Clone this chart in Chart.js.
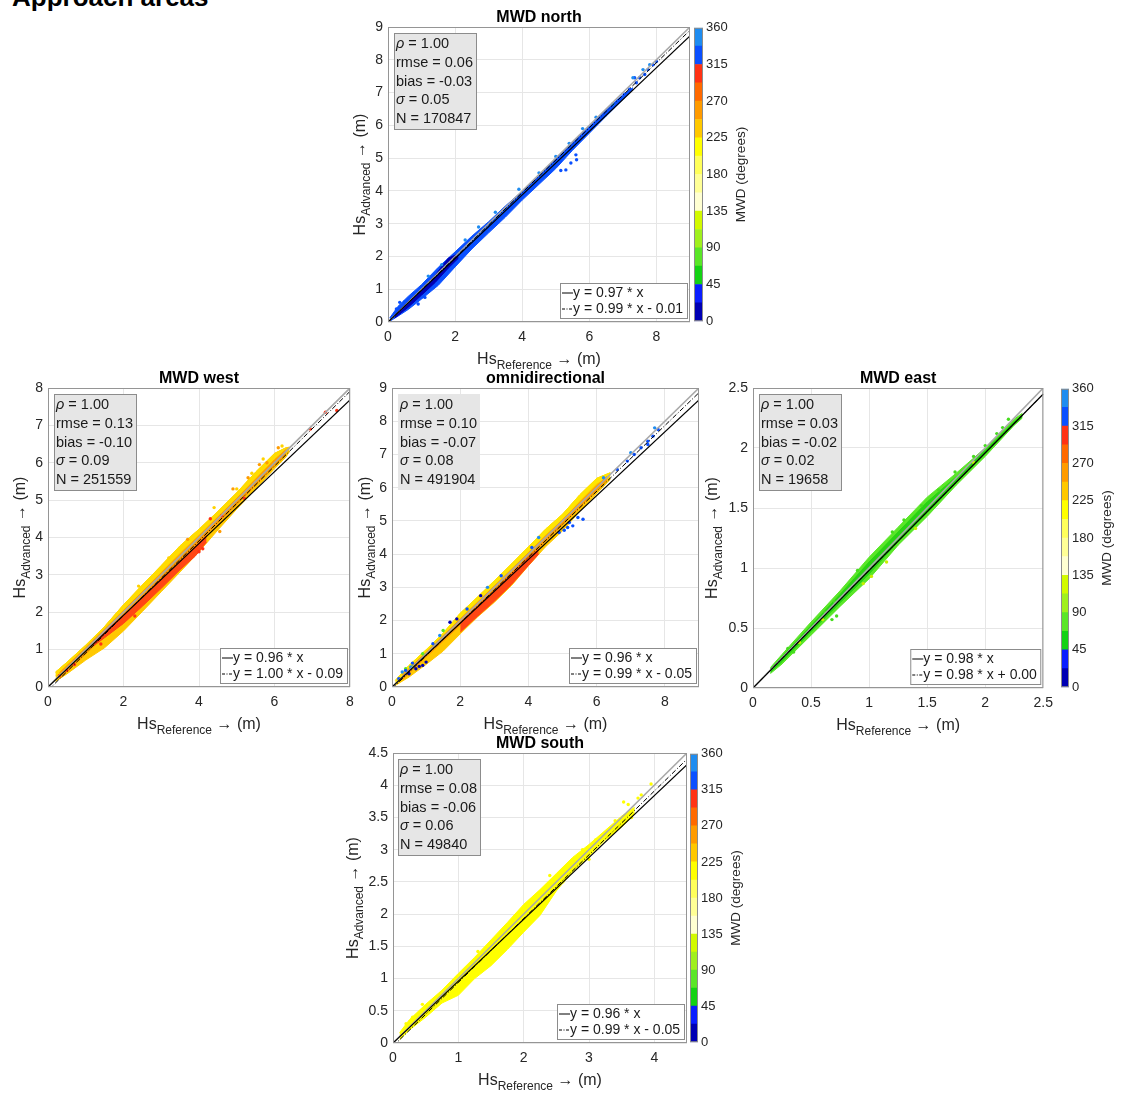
<!DOCTYPE html>
<html>
<head>
<meta charset="utf-8">
<script src="https://cdn.jsdelivr.net/npm/chart.js@4.4.1/dist/chart.umd.min.js"></script>
<style>
  body { margin: 0; background: #fff; width: 1128px; height: 1093px; overflow: hidden; position: relative; }
  canvas { position: absolute; }
  #figTitle { position: absolute; left: 12px; top: -18px; font: bold 26px "Liberation Sans", Arial, sans-serif; white-space: nowrap; color: #000; }
</style>
</head>
<body>
<div id="figTitle">Approach areas</div>
<script>
  'use strict'

  const FONT = '"Liberation Sans", Arial, Helvetica, sans-serif'

  // MWD colour bar: 16 classes of 22.5 degrees, bottom to top
  const mwdLevels = [22.5, 22.5, 22.5, 22.5, 22.5, 22.5, 22.5, 22.5, 22.5, 22.5, 22.5, 22.5, 22.5, 22.5, 22.5, 22.5]
  const mwdColors = ['#0000b4', '#0a1eff', '#14d214', '#5ae628', '#a0f01e', '#d2fa00', '#ffffd2', '#ffff96',
    '#ffff5a', '#ffff00', '#ffc800', '#ff9b00', '#ff6900', '#ff3214', '#0a50ff', '#1e8cf0']
  const mwdTicks = [0, 45, 90, 135, 180, 225, 270, 315, 360]

  // ---- MWD north
  const northXTicks = [0, 2, 4, 6, 8]
  const northYTicks = [0, 1, 2, 3, 4, 5, 6, 7, 8, 9]
  const northBandX = [0.05, 0.3, 0.6, 1.0, 1.5, 2.0, 2.5, 3.0, 3.5, 4.0, 4.5, 5.0, 5.5, 6.0, 6.5, 7.0, 7.3]
  const northBandHi = [0.12, 0.48, 0.78, 1.14, 1.67, 2.14, 2.62, 3.06, 3.54, 3.99, 4.46, 5.0, 5.49, 5.97, 6.47, 6.93, 7.15]
  const northBandLo = [0.02, 0.18, 0.38, 0.7, 1.12, 1.68, 2.23, 2.72, 3.2, 3.72, 4.2, 4.68, 5.24, 5.76, 6.28, 6.79, 7.1]
  const northCoreX = [0.2, 0.6, 1.0, 1.4, 1.8, 2.1]
  const northCoreHi = [0.22, 0.62, 1.0, 1.42, 1.95, 2.08]
  const northCoreLo = [0.12, 0.45, 0.82, 1.2, 1.65, 1.95]
  const northBluePts = [[5.15, 4.62], [5.3, 4.64], [5.45, 4.85], [5.6, 5.1], [5.62, 4.95], [6.85, 6.75], [7.05, 6.95],
    [7.2, 7.1], [7.4, 7.3], [7.5, 7.45], [7.65, 7.55], [7.75, 7.7], [7.9, 7.85], [8.0, 7.95], [7.35, 7.45],
    [0.35, 0.6], [0.5, 0.62], [0.25, 0.4], [0.9, 0.55], [1.1, 0.75]]
  const northLightPts = [[1.2, 1.4], [1.6, 1.75], [2.3, 2.5], [2.7, 2.9], [3.2, 3.35], [3.9, 4.05], [4.5, 4.55],
    [5.0, 5.05], [5.4, 5.45], [5.8, 5.9], [6.2, 6.25], [6.7, 6.65], [7.3, 7.45], [7.6, 7.7], [7.8, 7.85]]
  const northStats = ['1.00', '0.06', '-0.03', '0.05', '170847']
  const northFit = [0.97, 0.99, -0.01]

  // ---- MWD west
  const westXTicks = [0, 2, 4, 6, 8]
  const westYTicks = [0, 1, 2, 3, 4, 5, 6, 7, 8]
  const westBandX = [0.2, 0.5, 1.0, 1.5, 2.0, 2.5, 3.0, 3.5, 4.0, 4.5, 5.0, 5.5, 6.0, 6.3, 6.4]
  const westBandHi = [0.4, 0.66, 1.12, 1.62, 2.2, 2.73, 3.25, 3.78, 4.22, 4.7, 5.2, 5.75, 6.25, 6.4, 6.42]
  const westBandLo = [0.15, 0.35, 0.72, 1.05, 1.5, 2.02, 2.55, 3.08, 3.62, 4.2, 4.76, 5.3, 5.84, 6.15, 6.3]
  const westRimX = [0.2, 0.5, 1.0, 1.5, 2.0, 2.5, 3.0, 3.5, 4.0, 4.5, 5.0, 5.5, 6.0, 6.3]
  const westRimHi = [0.4, 0.66, 1.12, 1.62, 2.2, 2.73, 3.25, 3.78, 4.22, 4.7, 5.2, 5.75, 6.25, 6.4]
  const westRimLo = [0.3, 0.55, 0.98, 1.48, 2.05, 2.58, 3.1, 3.62, 4.08, 4.55, 5.02, 5.55, 6.05, 6.3]
  const westOrangeX = [0.3, 1.0, 2.0, 3.0, 4.0, 5.0, 6.0, 6.3]
  const westOrangeHi = [0.38, 1.05, 2.05, 3.05, 4.05, 5.05, 6.08, 6.35]
  const westOrangeLo = [0.22, 0.88, 1.85, 2.85, 3.88, 4.88, 5.92, 6.22]
  const westRedX = [1.2, 1.5, 2.0, 2.5, 3.0, 3.5, 3.9, 4.2]
  const westRedHi = [1.22, 1.48, 1.92, 2.4, 2.88, 3.36, 3.76, 4.06]
  const westRedLo = [1.1, 1.32, 1.7, 2.16, 2.64, 3.14, 3.5, 3.88]
  const westRedPts = [[0.3, 0.3], [0.5, 0.45], [0.7, 0.6], [4.0, 3.62], [4.1, 3.7], [4.3, 4.5], [4.6, 4.58],
    [5.2, 5.05], [6.95, 6.9], [7.35, 7.35], [7.65, 7.4], [1.4, 1.15], [2.3, 1.9]]
  const westOrangePts = [[4.55, 4.16], [5.8, 6.0], [5.6, 5.95], [5.3, 5.6], [6.1, 6.4], [3.7, 3.95], [4.9, 5.3]]
  const westYellowPts = [[5.0, 5.3], [5.4, 5.72], [5.7, 6.1], [6.2, 6.45], [4.4, 4.8], [3.2, 3.45], [2.4, 2.7]]
  const westStats = ['1.00', '0.13', '-0.10', '0.09', '251559']
  const westFit = [0.96, 1.00, -0.09]

  // ---- omnidirectional
  const omniXTicks = [0, 2, 4, 6, 8]
  const omniYTicks = [0, 1, 2, 3, 4, 5, 6, 7, 8, 9]
  const omniBandX = [0.1, 0.5, 1.0, 1.5, 2.0, 2.5, 3.0, 3.5, 4.0, 4.5, 5.0, 5.5, 6.0, 6.4]
  const omniBandHi = [0.2, 0.65, 1.12, 1.62, 2.22, 2.7, 3.2, 3.7, 4.22, 4.75, 5.2, 5.78, 6.28, 6.45]
  const omniBandLo = [0.05, 0.3, 0.68, 1.08, 1.6, 2.1, 2.55, 3.05, 3.65, 4.22, 4.7, 5.28, 5.82, 6.25]
  const omniRimLo = [0.12, 0.52, 0.98, 1.48, 2.06, 2.56, 3.06, 3.55, 4.08, 4.6, 5.05, 5.62, 6.14, 6.35]
  const omniOrangeX = [0.3, 1.0, 2.0, 3.0, 4.0, 5.0, 6.0, 6.3]
  const omniOrangeHi = [0.36, 1.04, 2.05, 3.04, 4.04, 5.04, 6.06, 6.34]
  const omniOrangeLo = [0.22, 0.9, 1.86, 2.86, 3.88, 4.88, 5.92, 6.22]
  const omniRedX = [2.0, 2.5, 3.0, 3.5, 4.0, 4.3]
  const omniRedHi = [1.95, 2.42, 2.9, 3.4, 3.9, 4.15]
  const omniRedLo = [1.65, 2.12, 2.58, 3.08, 3.66, 4.0]
  const omniDarkPts = [[0.5, 0.4], [0.7, 0.55], [0.9, 0.65], [1.0, 0.75], [0.8, 0.62], [1.7, 1.95], [1.9, 2.05], [2.6, 2.75]]
  const omniBluePts = [[0.2, 0.25], [0.4, 0.5], [0.6, 0.72], [1.2, 1.3], [2.2, 2.35], [3.2, 3.35], [4.1, 4.2],
    [4.9, 4.65], [5.05, 4.72], [5.15, 4.8], [5.3, 4.85], [5.45, 5.1], [5.6, 5.05], [5.2, 4.95], [6.6, 6.55],
    [6.9, 6.8], [7.1, 7.0], [7.3, 7.2], [7.5, 7.4], [7.65, 7.55], [7.8, 7.75], [7.5, 7.3]]
  const omniLightPts = [[0.3, 0.45], [0.55, 0.6], [1.4, 1.55], [2.8, 3.0], [4.3, 4.5], [6.2, 6.3], [7.0, 7.05], [7.7, 7.8]]
  const omniGreenPts = [[0.4, 0.55], [0.6, 0.6], [0.9, 1.0], [1.5, 1.7]]
  const omniStats = ['1.00', '0.10', '-0.07', '0.08', '491904']
  const omniFit = [0.96, 0.99, -0.05]

  // ---- MWD east
  const eastXTicks = [0, 0.5, 1, 1.5, 2, 2.5]
  const eastYTicks = [0, 0.5, 1, 1.5, 2, 2.5]
  const eastBandX = [0.15, 0.25, 0.5, 0.75, 1.0, 1.25, 1.5, 1.75, 2.0, 2.25, 2.32]
  const eastBandHi = [0.17, 0.28, 0.55, 0.81, 1.09, 1.34, 1.59, 1.79, 2.0, 2.24, 2.29]
  const eastBandLo = [0.12, 0.2, 0.44, 0.68, 0.91, 1.19, 1.43, 1.69, 1.93, 2.19, 2.25]
  const eastCoreHi = [0.16, 0.26, 0.52, 0.78, 1.05, 1.3, 1.55, 1.76, 1.98, 2.22, 2.27]
  const eastCoreLo = [0.13, 0.22, 0.47, 0.71, 0.95, 1.22, 1.46, 1.71, 1.95, 2.2, 2.26]
  const eastGreenPts = [[0.3, 0.33], [0.35, 0.3], [0.62, 0.63], [0.68, 0.57], [0.7, 0.72], [0.72, 0.6], [0.9, 0.98],
    [1.2, 1.3], [1.3, 1.4], [1.45, 1.52], [1.6, 1.65], [1.74, 1.8], [1.9, 1.93], [2.0, 2.02], [2.1, 2.12],
    [2.15, 2.17], [2.2, 2.24]]
  const eastYellowPts = [[0.4, 0.38], [0.95, 0.87], [1.02, 0.93], [1.15, 1.05], [1.4, 1.33], [0.6, 0.57], [1.9, 1.88]]
  const eastStats = ['1.00', '0.03', '-0.02', '0.02', '19658']
  const eastFit = [0.98, 0.98, 0.00]

  // ---- MWD south
  const southXTicks = [0, 1, 2, 3, 4]
  const southYTicks = [0, 0.5, 1, 1.5, 2, 2.5, 3, 3.5, 4, 4.5]
  const southBandX = [0.1, 0.25, 0.5, 0.75, 1.0, 1.25, 1.5, 1.75, 2.0, 2.25, 2.5, 2.75, 3.0, 3.25, 3.5, 3.7]
  const southBandHi = [0.16, 0.36, 0.6, 0.82, 1.08, 1.33, 1.6, 1.87, 2.15, 2.38, 2.63, 2.88, 3.08, 3.3, 3.52, 3.66]
  const southBandLo = [0.05, 0.2, 0.4, 0.62, 0.74, 1.0, 1.2, 1.45, 1.72, 1.98, 2.36, 2.66, 2.9, 3.15, 3.35, 3.55]
  const southPts = [[0.2, 0.3], [0.3, 0.4], [0.45, 0.6], [1.3, 1.42], [2.4, 2.6], [2.6, 2.5], [2.9, 3.0], [3.0, 2.85],
    [3.1, 3.15], [3.3, 3.25], [3.4, 3.45], [3.53, 3.74], [3.6, 3.7], [3.75, 3.8], [3.8, 3.85], [3.95, 4.02],
    [3.65, 3.5], [3.55, 3.45]]
  const southStats = ['1.00', '0.08', '-0.06', '0.06', '49840']
  const southFit = [0.96, 0.99, -0.05]

  function band (xs, hi, lo, color, order) {
    return [
      { type: 'line', data: xs.map((x, i) => ({ x, y: hi[i] })), borderColor: color, backgroundColor: color,
        borderWidth: 1, pointRadius: 0, fill: '+1', order },
      { type: 'line', data: xs.map((x, i) => ({ x, y: lo[i] })), borderColor: color,
        borderWidth: 1, pointRadius: 0, fill: false, order }
    ]
  }

  function dots (pts, color, order) {
    return { type: 'scatter', data: pts.map(([x, y]) => ({ x, y })), backgroundColor: color,
      borderWidth: 0, pointRadius: 1.7, order }
  }

  function fitLines (max, fit) {
    const [a1, a2, b2] = fit
    return [
      { type: 'line', data: [{ x: 0, y: 0 }, { x: max, y: max }], borderColor: '#a8a8a8', borderWidth: 1.6, pointRadius: 0, order: 3 },
      { type: 'line', data: [{ x: 0, y: 0 }, { x: max, y: a1 * max }], borderColor: '#000', borderWidth: 1.2, pointRadius: 0, order: 1 },
      { type: 'line', data: [{ x: 0, y: b2 }, { x: max, y: a2 * max + b2 }], borderColor: '#000', borderWidth: 1,
        borderDash: [5, 2, 1, 2], pointRadius: 0, order: 2 }
    ]
  }

  // Hs with subscript and arrow, centred at (cx, y)
  function hsLabel (ctx, sub, cx, y) {
    ctx.font = '16px ' + FONT
    const w1 = ctx.measureText('Hs').width
    const w3 = ctx.measureText(' \u2192 (m)').width
    ctx.font = '12px ' + FONT
    const w2 = ctx.measureText(sub).width
    let x = cx - (w1 + w2 + w3) / 2
    ctx.textAlign = 'left'
    ctx.textBaseline = 'alphabetic'
    ctx.font = '16px ' + FONT
    ctx.fillText('Hs', x, y)
    x += w1
    ctx.font = '12px ' + FONT
    ctx.fillText(sub, x, y + 5)
    x += w2
    ctx.font = '16px ' + FONT
    ctx.fillText(' \u2192 (m)', x, y)
  }

  function decor (p) {
    return {
      id: 'decor',
      afterDraw (chart) {
        const { ctx, chartArea: a } = chart
        const cx = (a.left + a.right) / 2
        const cy = (a.top + a.bottom) / 2
        ctx.save()
        ctx.strokeStyle = '#959595'
        ctx.lineWidth = 1
        ctx.strokeRect(a.left + 0.5, a.top + 0.5, a.right - a.left - 1, a.bottom - a.top - 1)

        // title
        ctx.fillStyle = '#000'
        ctx.font = 'bold 16px ' + FONT
        ctx.textAlign = 'center'
        ctx.textBaseline = 'alphabetic'
        ctx.fillText(p.title, cx, a.top - 5)

        // axis titles
        ctx.fillStyle = '#262626'
        hsLabel(ctx, 'Reference', cx, a.bottom + 42)
        ctx.save()
        ctx.translate(a.left - p.yOff, cy)
        ctx.rotate(-Math.PI / 2)
        hsLabel(ctx, 'Advanced', 0, 0)
        ctx.restore()

        // statistics box
        const rows = [['\u03c1', ' = ' + p.stats[0]], ['', 'rmse = ' + p.stats[1]], ['', 'bias = ' + p.stats[2]],
          ['\u03c3', ' = ' + p.stats[3]], ['', 'N = ' + p.stats[4]]]
        const widths = rows.map(r => {
          ctx.font = 'italic 14.5px ' + FONT
          const wi = ctx.measureText(r[0]).width
          ctx.font = '14.5px ' + FONT
          return wi + ctx.measureText(r[1]).width
        })
        const bw = Math.ceil(Math.max(...widths)) + 5
        const bx = a.left + p.boxDx
        const by = a.top + 6
        ctx.fillStyle = '#e6e6e6'
        ctx.fillRect(bx, by, bw, 96)
        if (p.boxEdge) {
          ctx.strokeStyle = '#8c8c8c'
          ctx.strokeRect(bx + 0.5, by + 0.5, bw, 96)
        }
        ctx.fillStyle = '#1a1a1a'
        ctx.textAlign = 'left'
        ctx.textBaseline = 'middle'
        rows.forEach((r, i) => {
          const y = by + 11 + i * 18.8
          ctx.font = 'italic 14.5px ' + FONT
          ctx.fillText(r[0], bx + 2, y)
          const wi = ctx.measureText(r[0]).width
          ctx.font = '14.5px ' + FONT
          ctx.fillText(r[1], bx + 2 + wi, y)
        })

        // fit legend
        const [a1, a2, b2] = p.fit
        const l1 = 'y = ' + a1.toFixed(2) + ' * x'
        const l2 = 'y = ' + a2.toFixed(2) + ' * x ' + (b2 < 0 ? '- ' : '+ ') + Math.abs(b2).toFixed(2)
        ctx.font = '14px ' + FONT
        const lw = Math.ceil(Math.max(ctx.measureText(l1).width, ctx.measureText(l2).width)) + 16
        const lh = 35
        const lx = a.right - 3 - lw
        const ly = a.bottom - 4 - lh
        ctx.fillStyle = '#fff'
        ctx.fillRect(lx, ly, lw, lh)
        ctx.strokeStyle = '#8c8c8c'
        ctx.strokeRect(lx + 0.5, ly + 0.5, lw, lh)
        ctx.strokeStyle = '#000'
        ctx.lineWidth = 1
        ctx.beginPath()
        ctx.moveTo(lx + 2, ly + 10)
        ctx.lineTo(lx + 13, ly + 10)
        ctx.stroke()
        ctx.setLineDash([3, 1.5, 1, 1.5])
        ctx.beginPath()
        ctx.moveTo(lx + 2, ly + 26)
        ctx.lineTo(lx + 13, ly + 26)
        ctx.stroke()
        ctx.setLineDash([])
        ctx.fillStyle = '#1a1a1a'
        ctx.fillText(l1, lx + 13, ly + 10)
        ctx.fillText(l2, lx + 13, ly + 26)
        ctx.restore()
      }
    }
  }

  function makePanel (p) {
    const padL = 60
    const padT = 30
    const padR = 14
    const padB = 56
    const cv = document.createElement('canvas')
    cv.width = p.w + padL + padR
    cv.height = p.h + padT + padB
    cv.style.left = (p.x - padL) + 'px'
    cv.style.top = (p.y - padT) + 'px'
    document.body.appendChild(cv)

    const axis = (ticks, isX) => ({
      type: 'linear',
      min: 0,
      max: p.max,
      afterBuildTicks: s => { s.ticks = ticks.map(v => ({ value: v })) },
      afterFit: s => { if (isX) s.height = padB; else s.width = padL },
      grid: { color: '#e6e6e6', drawTicks: false },
      border: { display: false },
      ticks: { color: '#262626', font: { family: FONT, size: 14 }, padding: isX ? 7 : 5,
        maxRotation: 0, autoSkip: false, callback: v => String(v) }
    })

    new Chart(cv, {
      type: 'scatter',
      data: { datasets: [...fitLines(p.max, p.fit), ...p.sets] },
      options: {
        responsive: false,
        animation: false,
        devicePixelRatio: 1,
        events: [],
        layout: { padding: { top: padT, right: padR, left: 0, bottom: 0 } },
        scales: { x: axis(p.xTicks, true), y: axis(p.yTicks, false) },
        plugins: { legend: { display: false }, tooltip: { enabled: false }, filler: { propagate: false } }
      },
      plugins: [decor(p)]
    })
  }

  function makeColorbar (c) {
    const extra = 62
    const cv = document.createElement('canvas')
    cv.width = c.w + extra
    cv.height = c.h + 20
    cv.style.left = c.x + 'px'
    cv.style.top = (c.y - 10) + 'px'
    document.body.appendChild(cv)
    new Chart(cv, {
      type: 'bar',
      data: {
        labels: ['MWD'],
        datasets: mwdLevels.map((v, i) => ({ data: [v], backgroundColor: mwdColors[i], borderWidth: 0,
          barPercentage: 1, categoryPercentage: 1, stack: 'mwd' }))
      },
      options: {
        responsive: false,
        animation: false,
        devicePixelRatio: 1,
        events: [],
        layout: { padding: { top: 10, bottom: 10, left: 0, right: 0 } },
        scales: {
          x: { display: false, stacked: true },
          y: {
            stacked: true,
            position: 'right',
            min: 0,
            max: 360,
            afterBuildTicks: s => { s.ticks = mwdTicks.map(v => ({ value: v })) },
            afterFit: s => { s.width = extra },
            grid: { display: false, drawTicks: false, tickLength: 0 },
            border: { display: false },
            ticks: { color: '#262626', font: { family: FONT, size: 13 }, padding: 3 }
          }
        },
        plugins: { legend: { display: false }, tooltip: { enabled: false } }
      },
      plugins: [{
        id: 'cbDecor',
        afterDraw (chart) {
          const { ctx, chartArea: a } = chart
          ctx.save()
          ctx.strokeStyle = '#8c8c8c'
          ctx.lineWidth = 1
          ctx.strokeRect(a.left + 0.5, a.top + 0.5, a.right - a.left - 1, a.bottom - a.top - 1)
          ctx.translate(a.right + 38, (a.top + a.bottom) / 2)
          ctx.rotate(-Math.PI / 2)
          ctx.fillStyle = '#262626'
          ctx.font = '13.5px ' + FONT
          ctx.textAlign = 'center'
          ctx.textBaseline = 'middle'
          ctx.fillText('MWD (degrees)', 0, 0)
          ctx.restore()
        }
      }]
    })
  }

  makePanel({
    title: 'MWD north', x: 388, y: 27, w: 302, h: 295, max: 9, yOff: 23, boxDx: 6, boxEdge: true,
    xTicks: northXTicks, yTicks: northYTicks, stats: northStats, fit: northFit,
    sets: [
      ...band(northBandX, northBandHi, northBandLo, '#0a50ff', 30),
      ...band(northCoreX, northCoreHi, northCoreLo, '#0000b4', 28),
      dots(northBluePts, '#0a50ff', 10),
      dots(northLightPts, '#1e8cf0', 9)
    ]
  })

  makePanel({
    title: 'MWD west', x: 48, y: 388, w: 302, h: 299, max: 8, yOff: 23, boxDx: 6, boxEdge: true,
    xTicks: westXTicks, yTicks: westYTicks, stats: westStats, fit: westFit,
    sets: [
      ...band(westBandX, westBandHi, westBandLo, '#ffc800', 30),
      ...band(westRimX, westRimHi, westRimLo, '#ffdc00', 29),
      ...band(westOrangeX, westOrangeHi, westOrangeLo, '#ff9b00', 28),
      ...band(westRedX, westRedHi, westRedLo, '#ff4614', 27),
      dots(westRedPts, '#ff3214', 10),
      dots(westOrangePts, '#ff9b00', 10),
      dots(westYellowPts, '#ffd200', 10)
    ]
  })

  makePanel({
    title: 'omnidirectional', x: 392, y: 388, w: 307, h: 299, max: 9, yOff: 22, boxDx: 6, boxEdge: false,
    xTicks: omniXTicks, yTicks: omniYTicks, stats: omniStats, fit: omniFit,
    sets: [
      ...band(omniBandX, omniBandHi, omniBandLo, '#ffc800', 30),
      ...band(omniBandX, omniBandHi, omniRimLo, '#ffe600', 29),
      ...band(omniOrangeX, omniOrangeHi, omniOrangeLo, '#ff9b00', 28),
      ...band(omniRedX, omniRedHi, omniRedLo, '#ff4614', 27),
      dots(omniDarkPts, '#0000b4', 10),
      dots(omniBluePts, '#0a50ff', 10),
      dots(omniLightPts, '#1e8cf0', 10),
      dots(omniGreenPts, '#5ae628', 10)
    ]
  })

  makePanel({
    title: 'MWD east', x: 753, y: 388, w: 293, h: 300, max: 2.5, yOff: 36, boxDx: 6, boxEdge: true,
    xTicks: eastXTicks, yTicks: eastYTicks, stats: eastStats, fit: eastFit,
    sets: [
      ...band(eastBandX, eastBandHi, eastBandLo, '#5ae628', 30),
      ...band(eastBandX, eastCoreHi, eastCoreLo, '#28d214', 29),
      dots(eastGreenPts, '#46dc1e', 10),
      dots(eastYellowPts, '#c8f000', 10)
    ]
  })

  makePanel({
    title: 'MWD south', x: 393, y: 753, w: 294, h: 290, max: 4.5, yOff: 35, boxDx: 5, boxEdge: true,
    xTicks: southXTicks, yTicks: southYTicks, stats: southStats, fit: southFit,
    sets: [
      ...band(southBandX, southBandHi, southBandLo, '#ffff00', 30),
      dots(southPts, '#ffff00', 10)
    ]
  })

  makeColorbar({ x: 694, y: 27, w: 9, h: 295 })
  makeColorbar({ x: 1061, y: 388, w: 8, h: 300 })
  makeColorbar({ x: 690, y: 753, w: 8, h: 290 })
</script>
</body>
</html>
